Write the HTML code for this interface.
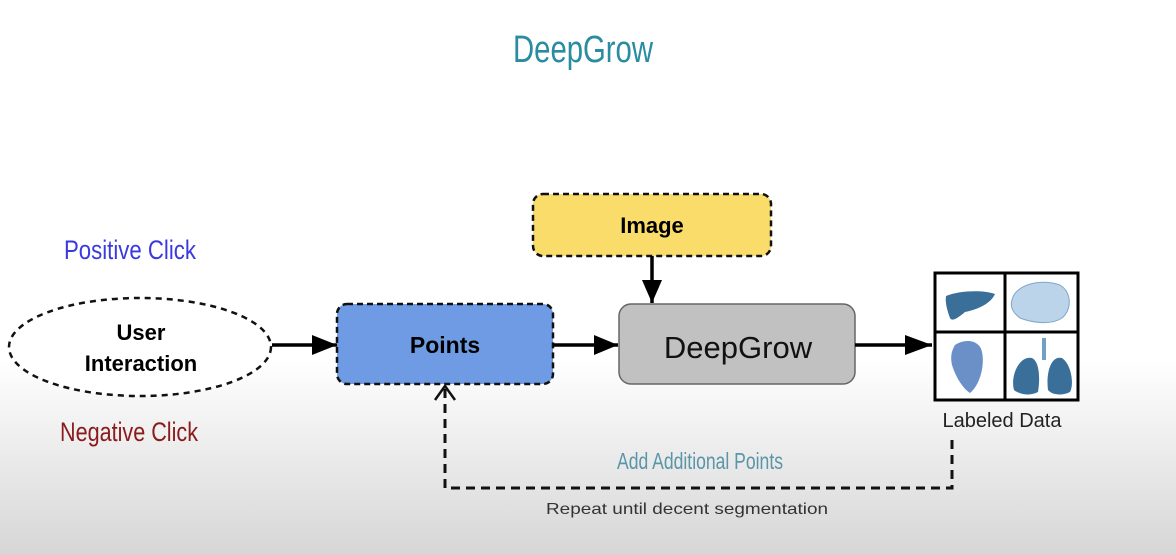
<!DOCTYPE html>
<html><head><meta charset="utf-8"><style>
html,body{margin:0;padding:0;width:1176px;height:555px;overflow:hidden}
body{background:linear-gradient(to bottom,#fff 0px,#fff 360px,#d6d6d6 555px)}
svg{position:absolute;left:0;top:0}
</style></head><body>
<svg width="1176" height="555" viewBox="0 0 1176 555" font-family="Liberation Sans, sans-serif">
<defs>
<marker id="ah" markerWidth="10" markerHeight="10" refX="9" refY="5" orient="auto" markerUnits="userSpaceOnUse" viewBox="0 0 10 10">
<path d="M0,0 L10,5 L0,10 z" fill="#000"/></marker>
</defs>
<text x="583" y="62" text-anchor="middle" font-size="38" fill="#2a8ca0" textLength="140" lengthAdjust="spacingAndGlyphs">DeepGrow</text>
<text x="64" y="259" font-size="27" fill="#3a3ae0" textLength="132" lengthAdjust="spacingAndGlyphs">Positive Click</text>
<text x="60" y="441" font-size="27" fill="#8b1a1a" textLength="138" lengthAdjust="spacingAndGlyphs">Negative Click</text>

<ellipse cx="140" cy="347" rx="131" ry="49" fill="#fff" stroke="#111" stroke-width="2.5" stroke-dasharray="6,5"/>
<text x="141" y="340" text-anchor="middle" font-size="22" font-weight="bold">User</text>
<text x="141" y="371" text-anchor="middle" font-size="22" font-weight="bold">Interaction</text>

<line x1="272" y1="345" x2="337" y2="345" stroke="#000" stroke-width="3.5"/>
<path d="M312,335 L337,345 L312,355z"/>
<rect x="337" y="304" width="216" height="80" rx="10" fill="#6f9be4" stroke="#111" stroke-width="2.5" stroke-dasharray="6,4"/>
<text x="445" y="353" text-anchor="middle" font-size="23" font-weight="bold">Points</text>

<line x1="553" y1="345" x2="618" y2="345" stroke="#000" stroke-width="3.5"/>
<path d="M594,335 L618,345 L594,355z"/>

<rect x="533" y="194" width="238" height="62" rx="10" fill="#f9dc6a" stroke="#111" stroke-width="2.5" stroke-dasharray="6,4"/>
<text x="652" y="233" text-anchor="middle" font-size="22" font-weight="bold">Image</text>
<line x1="652" y1="256" x2="652" y2="303" stroke="#000" stroke-width="3.5"/>
<path d="M642,280 L652,303 L662,280z"/>

<rect x="619" y="304" width="236" height="80" rx="12" fill="#c1c1c1" stroke="#666" stroke-width="1.5"/>
<text x="738" y="358" text-anchor="middle" font-size="31" fill="#111">DeepGrow</text>

<line x1="855" y1="345" x2="932" y2="345" stroke="#000" stroke-width="3.5"/>
<path d="M905,335 L932,345 L905,355z"/>

<g stroke="#000" stroke-width="3" fill="#fff">
<rect x="935" y="273" width="143" height="127"/>
<line x1="1005" y1="273" x2="1005" y2="400"/>
<line x1="935" y1="332" x2="1078" y2="332"/>
</g>
<path d="M946,296 C960,290 985,290 995,294 C990,305 975,310 965,312 C958,318 952,322 950,318 C947,310 945,302 946,296z" fill="#3a6f9a"/>
<path d="M1012,300 C1015,285 1040,278 1060,285 C1072,292 1072,310 1062,318 C1050,326 1030,322 1020,318 C1012,312 1010,306 1012,300z" fill="#bcd4ea" stroke="#7fa6c8" stroke-width="1"/>
<path d="M955,345 C965,338 980,340 982,352 C985,365 980,385 970,393 C962,388 955,375 952,365 C950,356 952,350 955,345z" fill="#6b90c8"/>
<path d="M1042,338 L1046,338 L1046,360 L1042,360z" fill="#6ea0c8"/>
<path d="M1014,390 C1010,375 1020,355 1032,358 C1040,362 1040,380 1038,392 C1030,396 1020,395 1014,390z M1048,390 C1046,375 1050,355 1062,358 C1072,365 1074,385 1070,392 C1062,396 1052,395 1048,390z" fill="#3a6f9a"/>
<text x="1002" y="427" text-anchor="middle" font-size="20" fill="#222">Labeled Data</text>

<path d="M952,440 L952,488 L445,488 L445,389" fill="none" stroke="#111" stroke-width="3" stroke-dasharray="9,6"/>
<path d="M435,400 L445,386 L455,400" fill="none" stroke="#111" stroke-width="2.5"/>
<text x="700" y="469" text-anchor="middle" font-size="23" fill="#5a96a8" textLength="166" lengthAdjust="spacingAndGlyphs">Add Additional Points</text>
<text x="687" y="514" text-anchor="middle" font-size="16" fill="#333" textLength="282" lengthAdjust="spacingAndGlyphs">Repeat until decent segmentation</text>
</svg>
</body></html>
